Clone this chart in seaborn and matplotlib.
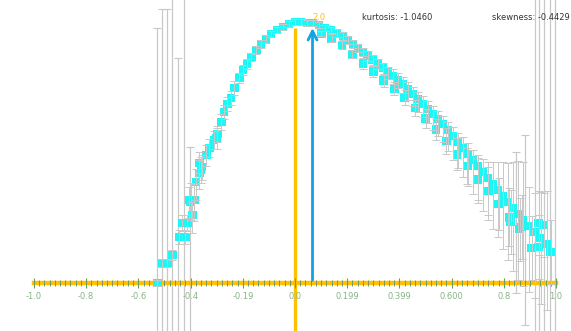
import numpy as np
import pandas as pd
import matplotlib
matplotlib.use("Agg")
import matplotlib.pyplot as plt
import seaborn as sns

# main track of the fitted points
x_a = [-0.528, -0.509, -0.489, -0.470, -0.444, -0.421, -0.432, -0.413, -0.394, -0.405,
       -0.386, -0.379, -0.367, -0.356, -0.367, -0.340, -0.329, -0.310, -0.298, -0.283,
       -0.272, -0.260, -0.245, -0.233, -0.214, -0.199, -0.184, -0.168, -0.149, -0.130,
       -0.111, -0.092, -0.069, -0.046, -0.023, 0.000, 0.023, 0.046, 0.069, 0.092,
       0.115, 0.138, 0.161, 0.184, 0.203, 0.222, 0.241, 0.260, 0.279, 0.298,
       0.317, 0.337, 0.356, 0.375, 0.394, 0.413, 0.432, 0.451, 0.470, 0.489,
       0.509, 0.528, 0.547, 0.566, 0.585, 0.604, 0.623, 0.642, 0.662, 0.681,
       0.700, 0.719, 0.738, 0.757, 0.776, 0.795, 0.815, 0.834, 0.853, 0.872,
       0.895, 0.918, 0.941, 0.964]
y_a = [0.000, 0.152, 0.152, 0.213, 0.350, 0.350, 0.456, 0.456, 0.517, 0.631,
       0.631, 0.768, 0.837, 0.882, 0.913, 0.973, 1.027, 1.087, 1.133, 1.224,
       1.300, 1.361, 1.407, 1.483, 1.559, 1.620, 1.665, 1.719, 1.772, 1.817,
       1.856, 1.894, 1.924, 1.947, 1.970, 1.985, 1.985, 1.977, 1.977, 1.962,
       1.939, 1.924, 1.901, 1.878, 1.848, 1.817, 1.787, 1.757, 1.726, 1.696,
       1.665, 1.635, 1.605, 1.574, 1.544, 1.513, 1.475, 1.437, 1.399, 1.361,
       1.323, 1.285, 1.247, 1.209, 1.163, 1.118, 1.072, 1.027, 0.981, 0.935,
       0.890, 0.844, 0.798, 0.753, 0.707, 0.662, 0.616, 0.570, 0.525, 0.479,
       0.433, 0.388, 0.342, 0.297]
err_a_hi = [0.02, 0.03, 0.03, 0.04, 0.05, 0.05, 0.06, 0.06, 0.10, 0.10,
            0.12, 0.10, 0.10, 0.09, 0.08, 0.08, 0.07, 0.07, 0.06, 0.06,
            0.05, 0.05, 0.05, 0.05, 0.04, 0.04, 0.04, 0.03, 0.03, 0.03,
            0.03, 0.02, 0.02, 0.02, 0.02, 0.02, 0.02, 0.02, 0.02, 0.02,
            0.02, 0.02, 0.03, 0.03, 0.03, 0.03, 0.03, 0.03, 0.04, 0.04,
            0.04, 0.04, 0.04, 0.05, 0.05, 0.05, 0.05, 0.05, 0.05, 0.06,
            0.06, 0.06, 0.06, 0.06, 0.06, 0.07, 0.07, 0.08, 0.08, 0.08,
            0.08, 0.10, 0.12, 0.17, 0.21, 0.26, 0.30, 0.35, 0.40, 0.44,
            0.30, 0.30, 0.35, 0.40]
err_a_lo = [0.02, 0.03, 0.03, 0.04, 0.05, 0.05, 0.06, 0.06, 0.14, 0.14,
            0.16, 0.14, 0.12, 0.10, 0.08, 0.08, 0.07, 0.07, 0.06, 0.06,
            0.05, 0.05, 0.05, 0.05, 0.04, 0.04, 0.04, 0.03, 0.03, 0.03,
            0.03, 0.02, 0.02, 0.02, 0.02, 0.02, 0.02, 0.02, 0.02, 0.02,
            0.02, 0.02, 0.03, 0.03, 0.03, 0.03, 0.03, 0.03, 0.04, 0.04,
            0.04, 0.05, 0.05, 0.06, 0.06, 0.07, 0.08, 0.09, 0.10, 0.10,
            0.11, 0.12, 0.13, 0.14, 0.16, 0.18, 0.20, 0.22, 0.24, 0.26,
            0.28, 0.30, 0.32, 0.34, 0.36, 0.40, 0.44, 0.48, 0.50, 0.50,
            0.50, 0.50, 0.50, 0.50]

# lower track (band widening to the right)
x_b = [0.10, 0.14, 0.18, 0.22, 0.26, 0.30, 0.34, 0.38, 0.42, 0.46,
       0.50, 0.54, 0.58, 0.62, 0.66, 0.70, 0.74, 0.78, 0.82, 0.86,
       0.906, 0.933, 0.979, 0.826, 0.868, 0.933, 0.952, -0.30, -0.36, -0.40]
y_b = [1.90, 1.86, 1.81, 1.74, 1.67, 1.61, 1.54, 1.48, 1.41, 1.33,
       1.25, 1.17, 1.08, 0.98, 0.89, 0.79, 0.70, 0.60, 0.50, 0.41,
       0.266, 0.274, 0.236, 0.464, 0.426, 0.456, 0.441, 1.10, 0.86, 0.62]
err_b = [0.02, 0.03, 0.03, 0.03, 0.04, 0.04, 0.05, 0.05, 0.06, 0.06,
         0.07, 0.08, 0.10, 0.12, 0.14, 0.16, 0.18, 0.20, 0.22, 0.24,
         0.24, 0.24, 0.24, 0.24, 0.24, 0.24, 0.24, 0.08, 0.10, 0.14]

# very wide error bars at both tails
wide_x = [-0.528, -0.509, -0.489, -0.470, -0.447, -0.424, -0.402,
          0.845, 0.880, 0.918, 0.933, 0.952, 0.975, 0.994]
wide_y = [0.000, 0.152, 0.152, 0.213, 0.350, 0.350, 0.456,
          0.525, 0.479, 0.388, 0.342, 0.297, 0.270, 0.250]
wide_lo = [1.0, 1.2, 1.2, 1.2, 1.4, 1.4, 1.0,
           0.60, 0.80, 1.2, 1.2, 1.2, 1.2, 1.2]
wide_hi = [1.94, 1.93, 1.93, 2.30, 1.36, 2.00, 0.58,
           0.47, 0.65, 2.00, 2.00, 2.00, 2.00, 2.00]

tick_pos = [-1.0, -0.8, -0.6, -0.4, -0.2, 0.0, 0.2, 0.4, 0.6, 0.8, 1.0]
tick_lab = ["-1.0", "-0.8", "-0.6", "-0.4", "-0.19", "0.0", "0.199", "0.399", "0.600", "0.8", "1.0"]

kurtosis = -1.0460
skewness = -0.4429
mode_x = 0.067

pts = pd.DataFrame({"x": x_a + x_b, "y": y_a + y_b})

sns.set_style("white")
plt.rcParams["font.family"] = ["DejaVu Sans"]

fig = plt.figure(figsize=(5.71, 3.31), dpi=100)
ax = fig.add_axes([0, 0, 1, 1])

sns.scatterplot(data=pts, x="x", y="y", marker="s", s=40, color="#1ff5f5",
                edgecolor="none", linewidth=0, ax=ax, zorder=2.8)

ecol = "#c8c8c8"
ax.errorbar(x_a, y_a, yerr=[err_a_lo, err_a_hi], fmt="none", ecolor=ecol, elinewidth=0.7,
            capsize=2.8, capthick=0.7, zorder=2.9)
ax.errorbar(x_b, y_b, yerr=err_b, fmt="none", ecolor=ecol, elinewidth=0.7,
            capsize=2.8, capthick=0.7, zorder=2.9)
ax.errorbar(wide_x, wide_y, yerr=[wide_lo, wide_hi], fmt="none", ecolor=ecol,
            elinewidth=0.9, capsize=3, capthick=0.8, zorder=1)

# orange vertical axis at zero
ax.vlines(0, -0.5, 1.94, color="#ffc000", lw=2.4, zorder=1.5)
ax.text(0.09, 2.02, "2.0", color="#ffc000", fontsize=6, ha="center", va="center", zorder=1)

# blue arrow at the mode
ax.annotate("", xy=(mode_x, 1.96), xytext=(mode_x, 0.0),
            arrowprops=dict(arrowstyle="->", color="#12a2e6", lw=2.0, mutation_scale=16),
            zorder=4)

fig.text(362 / 571, 1 - 18 / 331, f"kurtosis: {kurtosis:.4f}", fontsize=6, color="#333333", va="center")
fig.text(492 / 571, 1 - 18 / 331, f"skewness: {skewness:.4f}", fontsize=6, color="#333333", va="center")

ax.set_xlim(-1.130, 1.057)
ax.set_ylim(-0.365, 2.152)
for s in ["left", "top", "right"]:
    ax.spines[s].set_visible(False)
ax.spines["bottom"].set_position(("data", 0))
ax.spines["bottom"].set_bounds(-1.0, 1.0)
ax.spines["bottom"].set_color("#ffc000")
ax.spines["bottom"].set_linewidth(3.2)
ax.spines["bottom"].set_zorder(2.6)
ax.set_xticks(tick_pos)
ax.set_xticklabels(tick_lab)
ax.set_xticks(np.linspace(-1.0, 1.0, 101), minor=True)
ax.tick_params(axis="x", which="both", bottom=True)
ax.tick_params(axis="x", which="major", direction="inout", length=7, width=0.8,
               color="#6f9a60", labelcolor="#86b486", labelsize=6, pad=3)
ax.tick_params(axis="x", which="minor", direction="inout", length=4.5, width=0.7, color="#6f9a60")
ax.xaxis.set_zorder(2.7)
ax.set_yticks([])
ax.set_xlabel("")
ax.set_ylabel("")

fig.savefig("out.png", dpi=100)
